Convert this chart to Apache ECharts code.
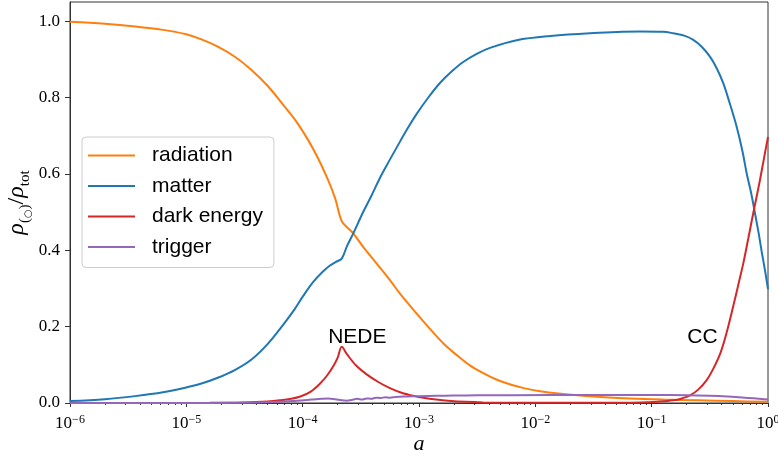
<!DOCTYPE html>
<html>
<head>
<meta charset="utf-8">
<script src="https://cdn.jsdelivr.net/npm/echarts@6/dist/echarts.min.js"></script>
<style>
  html, body { margin: 0; padding: 0; background: #fff; }
  #chart { width: 778px; height: 456px; }
</style>
</head>
<body>
<div id="chart"></div>
<script>
    // energy fractions vs scale factor a (x given as log10 a)
    const radLogA = [-6, -5.7, -5.44, -5.2, -5.01, -4.87, -4.73, -4.58, -4.44, -4.3, -4.155, -4.05, -3.954, -3.87, -3.782, -3.72, -3.664,
        -3.6, -3.565, -3.48, -3.35, -3.25, -3.16, -3.02, -2.9, -2.79, -2.67, -2.56, -2.44, -2.33, -2.2, -2.1, -1.96, -1.8, -1.5, -1.19, -0.9, -0.6, -0.3, 0];
    const radiation = [0.998, 0.993, 0.986, 0.977, 0.966, 0.952, 0.933, 0.906, 0.872, 0.83, 0.776, 0.735, 0.689, 0.642, 0.584, 0.535, 0.476,
        0.455, 0.444, 0.409, 0.36, 0.322, 0.285, 0.234, 0.192, 0.156, 0.124, 0.098, 0.077, 0.061, 0.047, 0.039, 0.031, 0.025, 0.017, 0.012, 0.009, 0.007, 0.005, 0.003];

    const matLogA = [-6, -5.7, -5.44, -5.2, -5.01, -4.87, -4.73, -4.58, -4.44, -4.3, -4.155, -4.07, -3.994, -3.909, -3.83, -3.765, -3.71, -3.664,
        -3.62, -3.565, -3.48, -3.41, -3.335, -3.26, -3.19, -3.1, -3.02, -2.92, -2.82, -2.72, -2.62, -2.5, -2.39, -2.16, -1.87, -1.53, -1.1,
        -0.9, -0.814, -0.72, -0.642, -0.57, -0.499, -0.44, -0.384, -0.33, -0.27, -0.22, -0.183, -0.145, -0.112, -0.08, -0.054, -0.025, 0];
    const matter = [0.005, 0.01, 0.018, 0.028, 0.04, 0.051, 0.066, 0.087, 0.114, 0.155, 0.21, 0.245, 0.281, 0.317, 0.343, 0.36, 0.37, 0.378,
        0.41, 0.444, 0.5, 0.542, 0.59, 0.632, 0.67, 0.718, 0.757, 0.8, 0.838, 0.868, 0.893, 0.915, 0.93, 0.95, 0.961, 0.968, 0.973,
        0.972, 0.968, 0.962, 0.951, 0.933, 0.907, 0.876, 0.837, 0.786, 0.724, 0.66, 0.601, 0.55, 0.497, 0.444, 0.396, 0.346, 0.298];

    const deLogA = [-6, -4.8, -4.5, -4.3, -4.195, -4.1, -4.02, -3.93, -3.85, -3.79, -3.737, -3.7, -3.664, -3.62, -3.54, -3.45, -3.35, -3.25,
        -3.15, -3.05, -2.95, -2.85, -2.75, -2.6, -2.45, -2.2, -1.8, -1.4, -1.1, -0.95, -0.814, -0.74, -0.67, -0.6, -0.527, -0.47, -0.41,
        -0.355, -0.3, -0.255, -0.213, -0.17, -0.127, -0.098, -0.069, -0.035, 0];
    const darkEnergy = [0, 0.0005, 0.0015, 0.004, 0.007, 0.011, 0.017, 0.03, 0.051, 0.072, 0.096, 0.118, 0.147, 0.128, 0.098, 0.075, 0.055, 0.039,
        0.027, 0.019, 0.013, 0.009, 0.006, 0.003, 0.0015, 0.0007, 0.0004, 0.0005, 0.0015, 0.0035, 0.007, 0.012, 0.02, 0.035, 0.06, 0.09, 0.13,
        0.185, 0.252, 0.31, 0.365, 0.43, 0.497, 0.54, 0.584, 0.64, 0.697];

    const trigLogA = [-6, -4.8, -4.4, -4.2, -4.05, -3.92, -3.84, -3.78, -3.72, -3.664, -3.62, -3.58, -3.53, -3.49, -3.45, -3.41, -3.37, -3.33,
        -3.29, -3.25, -3.2, -3.1, -3.0, -2.85, -2.7, -2.5, -2.2, -1.5, -1.0, -0.7, -0.5, -0.35, -0.2, -0.1, 0];
    const trigger = [0, 0.0003, 0.0015, 0.003, 0.006, 0.009, 0.011, 0.012, 0.01, 0.007, 0.006, 0.008, 0.011, 0.009, 0.012, 0.011, 0.014, 0.013,
        0.015, 0.014, 0.016, 0.017, 0.018, 0.019, 0.0195, 0.02, 0.0205, 0.021, 0.021, 0.0205, 0.019, 0.017, 0.014, 0.012, 0.009];

    const aNede = 2.17e-4;
    const notes = [
        { text: 'NEDE', a: 2.95e-4, y: 0.172 },
        { text: 'CC', a: 0.273, y: 0.172 }
    ];
    const yTicks = [0, 0.2, 0.4, 0.6, 0.8, 1.0];
    const xTicks = [1e-6, 1e-5, 1e-4, 1e-3, 1e-2, 1e-1, 1];

    let minorTicks = [];
    for (let k = -6; k < 0; k++) {
        for (let m = 2; m <= 9; m++) {
            minorTicks.push(m * Math.pow(10, k));
        }
    }

    function pairs(logA, vals) {
        return logA.map(function (l, i) { return [Math.pow(10, l), vals[i]]; });
    }

    function supLabel(v) {
        let e = Math.round(Math.log10(v));
        return '{b|10}{s|' + (e < 0 ? '\u2212' + (-e) : e) + '}';
    }

    const serif = '"Liberation Serif", "Times New Roman", serif';
    const sans = '"Liberation Sans", Arial, sans-serif';
    const axisColor = '#333';

    function lineSeries(name, data, color) {
        return {
            name: name,
            type: 'line',
            data: data,
            showSymbol: false,
            symbol: 'none',
            smooth: 0.35,
            lineStyle: { width: 2, color: color },
            itemStyle: { color: color },
            z: 3
        };
    }

    let series = [
        lineSeries('radiation', pairs(radLogA, radiation), '#ff7f0e'),
        lineSeries('matter', pairs(matLogA, matter), '#1f77b4'),
        lineSeries('dark energy', pairs(deLogA, darkEnergy), '#d62728'),
        lineSeries('trigger', pairs(trigLogA, trigger), '#9467bd')
    ];
    series[0].markLine = {
        silent: true,
        symbol: ['none', 'none'],
        label: { show: false },
        lineStyle: { color: '#808080', type: [2, 2.8], width: 2 },
        data: [{ xAxis: aNede }]
    };
    series[2].markPoint = {
        silent: true,
        symbol: 'circle',
        symbolSize: 0,
        label: {
            show: true, position: 'inside', formatter: '{b}',
            color: '#000', fontSize: 21, fontFamily: sans
        },
        data: notes.map(function (n) { return { name: n.text, coord: [n.a, n.y] }; })
    };

    let chart = echarts.init(document.getElementById('chart'));
    chart.setOption({
        animation: false,
        backgroundColor: '#fff',
        grid: {
            left: 70, right: 10, top: 2, bottom: 53,
            containLabel: false, outerBoundsMode: 'none',
            show: true, borderColor: axisColor, borderWidth: 1
        },
        legend: {
            orient: 'vertical',
            left: 82, top: 137,
            data: ['radiation', 'matter', 'dark energy', 'trigger'],
            icon: 'rect',
            itemWidth: 47, itemHeight: 2, itemGap: 9.5,
            padding: [8, 11, 10, 6],
            backgroundColor: 'rgba(255,255,255,0.85)',
            borderColor: '#cccccc', borderWidth: 1, borderRadius: 4,
            textStyle: { fontFamily: sans, fontSize: 21, color: '#000', padding: [0, 0, 0, 12] }
        },
        xAxis: [
            {
                type: 'log', logBase: 10, min: 1e-6, max: 1,
                name: 'a', nameLocation: 'middle', nameGap: 30, nameMoveOverlap: false,
                nameTextStyle: { fontFamily: serif, fontStyle: 'italic', fontSize: 22, color: '#000' },
                axisLine: { lineStyle: { color: axisColor, width: 1 } },
                axisTick: { show: true, length: 4, customValues: xTicks, lineStyle: { color: axisColor } },
                axisLabel: {
                    customValues: xTicks, margin: 11, formatter: supLabel,
                    rich: {
                        b: { fontFamily: serif, fontSize: 17, lineHeight: 20, color: '#000' },
                        s: { fontFamily: serif, fontSize: 12, lineHeight: 12, verticalAlign: 'top', color: '#000' }
                    }
                },
                splitLine: { show: false }
            },
            {
                type: 'log', logBase: 10, min: 1e-6, max: 1, position: 'bottom',
                axisLine: { show: false },
                axisTick: { show: true, length: 2, customValues: minorTicks, lineStyle: { color: axisColor } },
                axisLabel: { show: false },
                splitLine: { show: false }
            }
        ],
        yAxis: {
            type: 'value', min: 0, max: 1.05,
            name: '{r|\u03c1}{s|(}{c|\u25cb}{s|)}{d|/}{r|\u03c1}{s|tot}',
            nameLocation: 'middle', nameGap: 37, nameRotate: 90, nameMoveOverlap: false,
            nameTextStyle: {
                rich: {
                    r: { fontFamily: serif, fontStyle: 'italic', fontSize: 24, lineHeight: 28, verticalAlign: 'top', color: '#000' },
                    d: { fontFamily: serif, fontSize: 24, lineHeight: 28, verticalAlign: 'top', color: '#000' },
                    s: { fontFamily: serif, fontSize: 15, lineHeight: 15, verticalAlign: 'bottom', color: '#000' },
                    c: { fontFamily: '"DejaVu Sans", sans-serif', fontSize: 10, lineHeight: 13, verticalAlign: 'bottom', color: '#000' }
                }
            },
            axisLine: { show: true, lineStyle: { color: axisColor, width: 1 } },
            axisTick: { show: true, length: 5, customValues: yTicks, lineStyle: { color: axisColor } },
            axisLabel: {
                customValues: yTicks, margin: 10,
                fontFamily: serif, fontSize: 17, color: '#000',
                formatter: function (v) { return v.toFixed(1); }
            },
            splitLine: { show: false }
        },
        series: series
    });
</script>
</body>
</html>
